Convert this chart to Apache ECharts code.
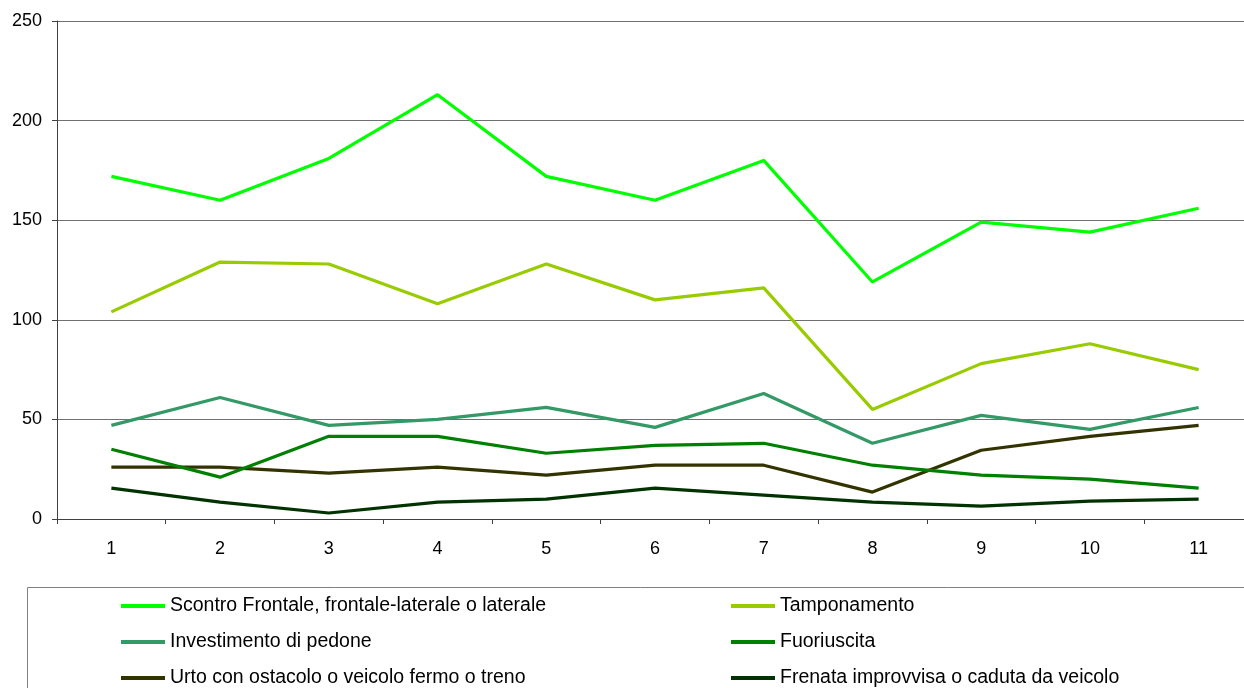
<!DOCTYPE html>
<html>
<head>
<meta charset="utf-8">
<script src="https://cdn.jsdelivr.net/npm/echarts@6/dist/echarts.min.js"></script>
<style>
html,body{margin:0;padding:0;background:#fff;overflow:hidden;width:1244px;height:688px;}
#chart{width:1253px;height:688px;}
</style>
</head>
<body>
<div id="chart"></div>
<script>
var categories = ['1','2','3','4','5','6','7','8','9','10','11'];
var seriesNames = [
  'Scontro Frontale, frontale-laterale o laterale',
  'Tamponamento',
  'Investimento di pedone',
  'Fuoriuscita',
  'Urto con ostacolo o veicolo fermo o treno',
  'Frenata improvvisa o caduta da veicolo'
];
var scontro = [172, 160, 181, 213, 172, 160, 180, 119, 149, 144, 156];
var tamponamento = [104, 129, 128, 108, 128, 110, 116, 55, 78, 88, 75];
var investimento = [47, 61, 47, 50, 56, 46, 63, 38, 52, 45, 56];
var fuoriuscita = [35, 21, 41.5, 41.5, 33, 37, 38, 27, 22, 20, 15.5];
var urto = [26, 26, 23, 26, 22, 27, 27, 13.5, 34.5, 41.5, 47];
var frenata = [15.5, 8.5, 3, 8.5, 10, 15.5, 12, 8.5, 6.5, 9, 10];
var colors = ['#00FF00', '#99CC00', '#339966', '#008000', '#333300', '#003300'];
var allData = [scontro, tamponamento, investimento, fuoriuscita, urto, frenata];

var chart = echarts.init(document.getElementById('chart'));
var font = 'Liberation Sans, Arial, sans-serif';
var series = allData.map(function (d, i) {
  return {
    name: seriesNames[i],
    type: 'line',
    data: d,
    symbol: 'none',
    showSymbol: false,
    lineStyle: { color: colors[i], width: 3.2 },
    itemStyle: { color: colors[i] },
    z: 10 - i,
    animation: false
  };
});
var legendCommon = {
  orient: 'vertical',
  top: 596,
  padding: 0,
  itemGap: 16,
  itemWidth: 44,
  itemHeight: 4,
  icon: 'rect',
  textStyle: { fontFamily: font, fontSize: 19.5, color: '#000', padding: [0, 0, 0, 0] },
  selectedMode: false
};
chart.setOption({
  animation: false,
  backgroundColor: '#fff',
  color: colors,
  grid: { left: 57, top: 21, right: 0, height: 498, containLabel: false },
  xAxis: {
    type: 'category',
    data: categories,
    boundaryGap: true,
    axisLine: { show: true, lineStyle: { color: '#404040', width: 1 } },
    axisTick: { show: true, interval: 0, length: 5, lineStyle: { color: '#404040' } },
    axisLabel: { interval: 0, margin: 21, fontFamily: font, fontSize: 18, color: '#000' },
    splitLine: { show: false }
  },
  yAxis: {
    type: 'value',
    min: 0, max: 250, interval: 50,
    axisLine: { show: true, lineStyle: { color: '#404040', width: 1 } },
    axisTick: { show: true, length: 5, lineStyle: { color: '#404040' } },
    axisLabel: { margin: 15, fontFamily: font, fontSize: 18, color: '#000' },
    splitLine: { show: true, lineStyle: { color: '#707070', width: 1 } }
  },
  legend: [
    Object.assign({}, legendCommon, { left: 121, data: [seriesNames[0], seriesNames[2], seriesNames[4]] }),
    Object.assign({}, legendCommon, { left: 731, data: [seriesNames[1], seriesNames[3], seriesNames[5]] })
  ],
  graphic: [{
    type: 'rect',
    shape: { x: 27.5, y: 587.5, width: 1260, height: 140 },
    style: { fill: 'none', stroke: '#808080', lineWidth: 1 },
    silent: true
  }],
  series: series
});
</script>
</body>
</html>
